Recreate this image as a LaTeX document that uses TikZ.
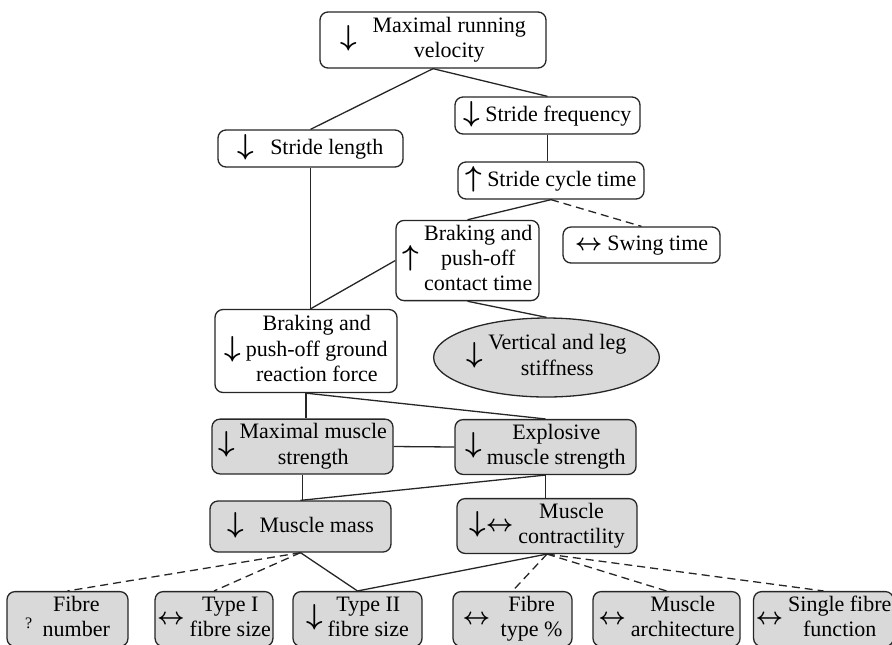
\documentclass[tikz,border=0pt]{standalone}
\usepackage{fontspec}
\usepackage{amsmath,bm}
\setmainfont{Liberation Serif}
\usetikzlibrary{shapes,positioning,calc}

\newcommand{\arrdn}{{\fontsize{14}{14}\selectfont$\bm{\downarrow}$}}
\newcommand{\arrup}{{\fontsize{14}{14}\selectfont$\bm{\uparrow}$}}
\newcommand{\arrlr}{{\fontsize{12}{12}\selectfont$\bm{\leftrightarrow}$}}
\newcommand{\boxtext}[2]{#1\hspace{2.5pt}\begin{tabular}{@{}c@{}}#2\end{tabular}}

\begin{document}
\begin{tikzpicture}[x=0.5pt,y=-0.5pt,
  font=\fontsize{11}{12.7}\selectfont,
  wbox/.style={draw=black!85,line width=0.65pt,rounded corners=4pt,fill=white,inner sep=1pt},
  gbox/.style={wbox,fill=black!15},
  link/.style={draw=black!85,line width=0.65pt},
  dlink/.style={link,dash pattern=on 4pt off 2.5pt}]
\useasboundingbox (0,0) rectangle (892,644);

\node[wbox,minimum width=113pt,minimum height=28pt] (vel) at (433,40) {\boxtext{\arrdn\ \ }{Maximal running\\velocity}};
\node[wbox,minimum width=92.5pt,minimum height=18.5pt] (len) at (310.5,148.5) {\boxtext{\arrdn}{\ \ Stride length}};
\node[wbox,minimum width=92.5pt,minimum height=18.5pt] (freq) at (547.5,115.5) {\boxtext{\arrdn}{Stride frequency}};
\node[wbox,minimum width=93pt,minimum height=18.5pt] (cyc) at (551,180.5) {\boxtext{\arrup}{Stride cycle time}};
\node[wbox,minimum width=71.5pt,minimum height=38.5pt] (con) at (467.5,260.5) {\boxtext{\arrup}{Braking and\\push-off\\contact time}};
\node[wbox,minimum width=78.5pt,minimum height=18pt] (swing) at (641.5,245) {\boxtext{\arrlr}{Swing time}};
\node[wbox,minimum width=91pt,minimum height=41.5pt] (grf) at (306,351) {\boxtext{\arrdn}{Braking and\\push-off ground\\reaction force}};
\node[ellipse,draw=black!85,line width=0.65pt,fill=black!15,inner sep=0pt,minimum width=93.5pt,minimum height=39.5pt] (stiff) at (546.5,357.5) {\boxtext{\arrdn}{Vertical and leg\\stiffness}};

\node[gbox,minimum width=90.5pt,minimum height=25.5pt] (maxs) at (302.5,446.5) {\boxtext{\arrdn}{Maximal muscle\\strength}};
\node[gbox,minimum width=90.5pt,minimum height=26pt] (expl) at (545.5,447) {\boxtext{\arrdn}{Explosive\\muscle strength}};
\node[gbox,minimum width=90.5pt,minimum height=25.5pt] (mass) at (300.5,526.5) {\boxtext{\arrdn}{\ \ Muscle mass}};
\node[gbox,minimum width=90pt,minimum height=26pt] (contr) at (547,526) {\boxtext{\arrdn\arrlr}{Muscle\\contractility}};

\node[gbox,minimum width=60.5pt,minimum height=24pt] (fnum) at (67.5,619) {\boxtext{\raisebox{-2pt}{\footnotesize ?}\ }{Fibre\\number}};
\node[gbox,minimum width=58pt,minimum height=24pt] (t1) at (214,619) {\boxtext{\arrlr}{Type I\\fibre size}};
\node[gbox,minimum width=64.5pt,minimum height=24pt] (t2) at (357.5,619) {\boxtext{\arrdn}{Type II\\fibre size}};
\node[gbox,minimum width=59.5pt,minimum height=24pt] (ftp) at (512.5,619) {\boxtext{\arrlr\ }{Fibre\\type \%}};
\node[gbox,minimum width=73.5pt,minimum height=24pt] (arch) at (666.5,619) {\boxtext{\arrlr}{Muscle\\architecture}};
\node[gbox,minimum width=65.5pt,minimum height=24pt] (sff) at (823.5,619) {\boxtext{\arrlr}{Single fibre\\function}};

\coordinate (j) at (len.south |- grf.north);

\draw[link] (vel.south) -- (len.north);
\draw[link] (vel.south) -- (freq.north);
\draw[link] (freq.south) -- (freq.south |- cyc.north);
\draw[link] (len.south) -- (j);
\draw[link] (cyc.south) -- (con.north);
\draw[dlink] (cyc.south) -- (swing.north);
\draw[link] (con.west) -- (j);
\draw[link] (con.south) -- (stiff.north);
\draw[link] (grf.south) -- (grf.south |- maxs.north);
\draw[link] (grf.south) -- (expl.north);
\draw[link] (maxs.east) -- (expl.west);
\draw[link] (maxs.south) -- (maxs.south |- mass.north);
\draw[link] (expl.south) -- (mass.north);
\draw[link] (expl.south) -- (expl.south |- contr.north);
\draw[dlink] (mass.south) -- (fnum.north);
\draw[dlink] (mass.south) -- (t1.north);
\draw[link] (mass.south) -- (t2.north);
\draw[link] (contr.south) -- (t2.north);
\draw[dlink] (contr.south) -- (ftp.north);
\draw[dlink] (contr.south) -- (arch.north);
\draw[dlink] (contr.south) -- (sff.north);
\end{tikzpicture}
\end{document}
